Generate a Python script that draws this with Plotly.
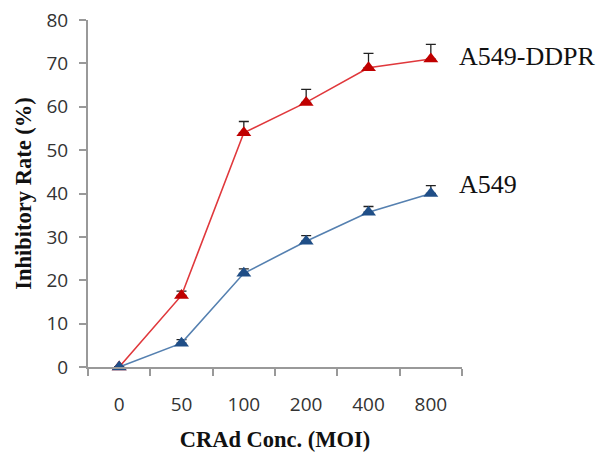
import plotly.graph_objects as go

categories = ["0", "50", "100", "200", "400", "800"]
ddpr_values = [0, 16.5, 54, 61, 69, 71]
ddpr_errors = [0, 1, 2.6, 3, 3.3, 3.4]
a549_values = [0, 5.5, 21.6, 29, 35.7, 40]
a549_errors = [0, 0.8, 1, 1.3, 1.3, 1.8]
series_names = ["A549-DDPR", "A549"]

fig = go.Figure()
fig.add_trace(go.Scatter(
    x=categories, y=ddpr_values, mode="lines+markers", name=series_names[0],
    line=dict(color="#E0383C", width=1.6),
    marker=dict(symbol="triangle-up", size=13, color="#C00000"),
    error_y=dict(type="data", array=ddpr_errors, symmetric=False,
                 arrayminus=[0]*len(ddpr_errors), color="#222222",
                 thickness=1.3, width=5),
))
fig.add_trace(go.Scatter(
    x=categories, y=a549_values, mode="lines+markers", name=series_names[1],
    line=dict(color="#5580B0", width=1.6),
    marker=dict(symbol="triangle-up", size=13, color="#1F4E87"),
    error_y=dict(type="data", array=a549_errors, symmetric=False,
                 arrayminus=[0]*len(a549_errors), color="#222222",
                 thickness=1.3, width=5),
))

for name, vals, shift in zip(series_names, [ddpr_values, a549_values], [3, 9]):
    fig.add_annotation(x=5.42, y=vals[-1], xref="x", yref="y",
                       text=name, showarrow=False, xanchor="left",
                       yanchor="middle", yshift=shift,
                       font=dict(family="Liberation Serif", size=26, color="#111111"))

fig.update_layout(
    width=596, height=453,
    margin=dict(l=88, r=134, t=20, b=86),
    plot_bgcolor="white", paper_bgcolor="white",
    showlegend=False,
)
fig.update_xaxes(
    type="category", range=[-0.5, 5.5], tickson="boundaries",
    ticks="outside", ticklen=7, tickcolor="#999999", tickwidth=2,
    showline=True, linecolor="#999999", linewidth=2, showgrid=False,
    ticklabelstandoff=19, automargin=False,
    tickfont=dict(family="Open Sans", size=19, color="#333333"),
    title=dict(text="<b>CRAd Conc. (MOI)</b>", standoff=15,
               font=dict(family="Liberation Serif", size=22.5, color="#111111")),
)
fig.update_yaxes(
    range=[0, 80], dtick=10, ticks="outside", ticklen=7,
    tickcolor="#999999", tickwidth=2,
    showline=True, linecolor="#999999", linewidth=2, showgrid=False,
    zeroline=False, ticklabelstandoff=7, automargin=False,
    tickfont=dict(family="Open Sans", size=19, color="#333333"),
    title=dict(text="<b>Inhibitory Rate (%)</b>", standoff=9,
               font=dict(family="Liberation Serif", size=22.5, color="#111111")),
)
fig.update_traces(cliponaxis=False)

fig.write_html("out.html")
